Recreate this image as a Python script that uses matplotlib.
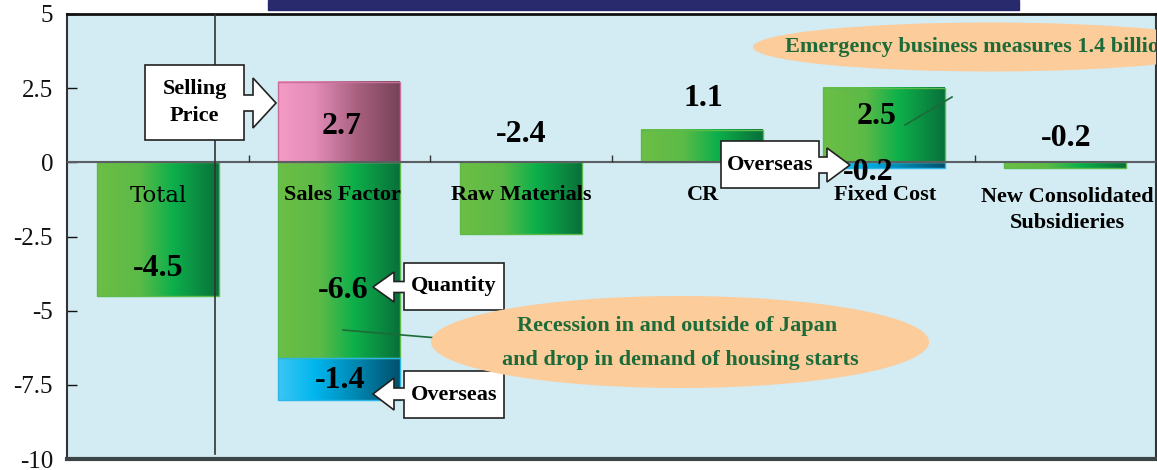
import numpy as np
import matplotlib
matplotlib.use("Agg")
import matplotlib.pyplot as plt
from matplotlib.colors import LinearSegmentedColormap
from matplotlib.patches import Polygon, Ellipse, Rectangle
from matplotlib.transforms import Affine2D

W, H = 1157, 470

# chart data
categories = ['Total', 'Sales Factor', 'Raw Materials', 'CR', 'Fixed Cost',
              'New Consolidated\nSubsidieries']
green_vals = [-4.5, -6.6, -2.4, 1.1, 2.5, -0.2]
pink_vals = [0, 2.7, 0, 0, 0, 0]        # selling price
blue_vals = [0, -1.4, 0, 0, -0.2, 0]    # overseas
y_ticks = [5, 2.5, 0, -2.5, -5, -7.5, -10]
y_tick_labels = ['5', '2.5', '0', '-2.5', '-5', '-7.5', '-10']

BG = '#D3EBF3'
PEACH = '#FCCC9A'
DKGREEN = '#1D6B38'
BW = 0.67

green_cm = LinearSegmentedColormap.from_list(
    'g', [(0, '#6CBE45'), (0.35, '#5CBA47'), (0.62, '#0DB04B'), (1, '#08703A')])
pink_cm = LinearSegmentedColormap.from_list(
    'p', [(0, '#F49AC5'), (0.3, '#E38DB8'), (0.65, '#A8607F'), (1, '#774358')])
blue_cm = LinearSegmentedColormap.from_list(
    'b', [(0, '#3CC6F2'), (0.3, '#00B6EE'), (0.65, '#0086B0'), (1, '#00506C')])

plt.rcParams['font.family'] = ['Liberation Serif', 'DejaVu Serif']

fig = plt.figure(figsize=(W / 100, H / 100), dpi=100)
ax = fig.add_axes([67 / W, 1 - 459 / H, (1156 - 67) / W, (459 - 14) / H])
ax.set_facecolor(BG)
# pixel coords of the reference image (origin top-left)
pix = Affine2D().scale(1 / W, -1 / H).translate(0, 1) + fig.transFigure

x = np.arange(len(categories))


def grad_bar(xc, bottom, height, cmap, edge):
    if height == 0:
        return
    ax.bar(xc, height, bottom=bottom, width=BW, facecolor='none',
           edgecolor=edge, lw=1, zorder=3)
    y0, y1 = sorted([bottom, bottom + height])
    ax.imshow(np.linspace(0, 1, 256)[None, :], cmap=cmap, aspect='auto',
              extent=[xc - BW / 2, xc + BW / 2, y0, y1], zorder=2,
              interpolation='bilinear')


for i in x:
    grad_bar(i, 0, green_vals[i], green_cm, '#5DBB4A')
    grad_bar(i, 0, pink_vals[i], pink_cm, '#C77099')
    base = green_vals[i] if green_vals[i] < 0 else 0
    grad_bar(i, base, blue_vals[i], blue_cm, '#29B6E8')

ax.set_xlim(-0.5, len(categories) - 0.5)
ax.set_ylim(-10, 5)
ax.axhline(0, color='#5A5F62', lw=1.5, zorder=4)
ax.vlines(x[:-1] + 0.5, 0, 0.24, color='#333333', lw=1, zorder=4)
ax.plot([215, 215], [14, 454], color='#333333', lw=1.2, transform=pix, zorder=5)

ax.set_xticks([])
ax.set_yticks(y_ticks, y_tick_labels)
ax.tick_params(axis='y', direction='in', length=7, width=1, pad=10,
               labelsize=18, colors='#111111')
ax.spines['top'].set_color('#111111')
ax.spines['top'].set_linewidth(2)
ax.spines['bottom'].set_color('#3C4446')
ax.spines['bottom'].set_linewidth(3)
for s in ['left', 'right']:
    ax.spines[s].set_color('#333333')
    ax.spines[s].set_linewidth(1.5)

fig.add_artist(Rectangle((268 / W, 1 - 10 / H), (1019 - 268) / W, 10 / H,
                         transform=fig.transFigure, color='#29296E'))


def ptext(px, py, s, size=23, weight='bold', z=8, **kw):
    ax.text(px, py, s, transform=pix, ha='center', va='center', fontsize=size,
            fontweight=weight, zorder=z, clip_on=True, **kw)


# category labels
cat_px = [158, 342, 521, 703, 885, 1067]
ptext(cat_px[0], 196, categories[0], size=16.5, weight='normal', family='DejaVu Serif')
for i in range(1, len(categories)):
    ptext(cat_px[i], 210 if '\n' in categories[i] else 195, categories[i],
          size=16, linespacing=1.4)

# value labels
fmt = lambda v: f'{v:.1f}'
ptext(158, 269, fmt(green_vals[0]))
ptext(342, 127, fmt(pink_vals[1]))
ptext(343, 291, fmt(green_vals[1]))
ptext(340, 381, fmt(blue_vals[1]))
ptext(521, 134, fmt(green_vals[2]))
ptext(703, 99, fmt(green_vals[3]))
ptext(877, 117, fmt(green_vals[4]))
ptext(868, 172, fmt(blue_vals[4]), z=9)
ptext(1066, 139, fmt(green_vals[5]))


def callout(x0, y0, x1, y1, my, sh, hb, hh, tip, label, side='right'):
    xe = x1 if side == 'right' else x0
    xo = x0 if side == 'right' else x1
    pts = [(xo, y0), (xe, y0), (xe, my - sh), (hb, my - sh), (hb, my - hh),
           (tip, my), (hb, my + hh), (hb, my + sh), (xe, my + sh), (xe, y1),
           (xo, y1)]
    ax.add_patch(Polygon(pts, closed=True, facecolor='white',
                         edgecolor='#222222', lw=1.2, transform=pix, zorder=10))
    ptext((x0 + x1) / 2, (y0 + y1) / 2, label, size=16, z=11, linespacing=1.45)


callout(145, 65, 244, 140, 103, 8, 253, 25, 276, 'Selling\nPrice')
callout(721, 141, 819, 188, 165, 8, 827, 17, 850, 'Overseas')
callout(404, 263, 504, 310, 287, 5.5, 394, 15, 373, 'Quantity', side='left')
callout(404, 371, 504, 418, 394, 6, 394, 16, 373, 'Overseas', side='left')

# comment bubbles
ax.add_patch(Ellipse((680, 342), 498, 92, facecolor=PEACH, edgecolor='none',
                     transform=pix, zorder=12))
ptext(677, 326, 'Recession in and outside of Japan', size=16, z=13, color=DKGREEN)
ptext(680, 360, 'and drop in demand of housing starts', size=16, z=13, color=DKGREEN)
ax.plot([343, 438], [330, 338], color=DKGREEN, lw=1.2, transform=pix, zorder=11)

ax.add_patch(Ellipse((990, 47), 474, 49, facecolor=PEACH, edgecolor='none',
                     transform=pix, zorder=12))
ax.text(785, 47, 'Emergency business measures 1.4 billion', transform=pix,
        ha='left', va='center', fontsize=16, fontweight='bold', color=DKGREEN,
        zorder=13, clip_on=True)
ax.plot([905, 952], [125, 97], color=DKGREEN, lw=1.2, transform=pix, zorder=9)

fig.savefig('out.png', dpi=100, facecolor='white')
